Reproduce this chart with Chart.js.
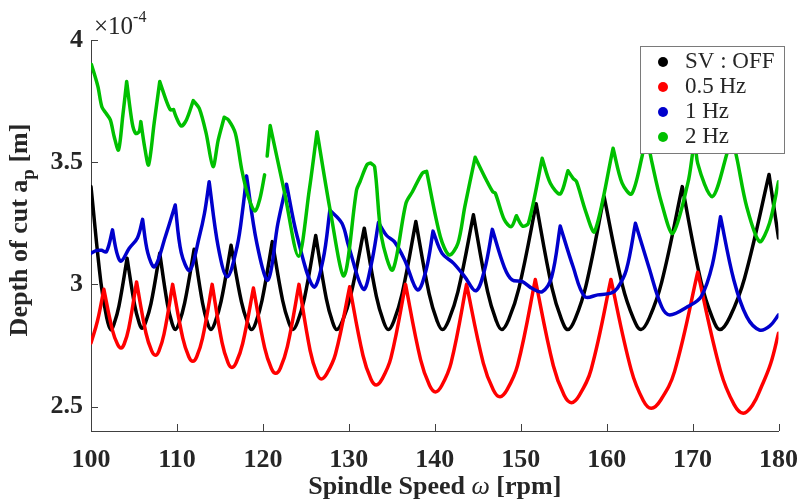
<!DOCTYPE html>
<html><head><meta charset="utf-8">
<script src="https://cdn.jsdelivr.net/npm/chart.js@4/dist/chart.umd.min.js"></script>
<style>html,body{margin:0;padding:0;background:#fff;}#wrap{width:812px;height:504px;position:relative;}</style>
</head><body><div id="wrap"><canvas id="c" width="812" height="504"></canvas></div>
<script>
// ---- data (depth values in units of 1e-4 m) ----
const xTicks = [100,110,120,130,140,150,160,170,180];
const yTicks = [2.5,3,3.5,4];
const seriesLabels = ['SV : OFF','0.5 Hz','1 Hz','2 Hz'];
const seriesColors = ['#000000','#ff0000','#0000cc','#00c000'];

const blackRpm = [100,101.15,101.84,102.3,102.68,103.25,104.2,105.08,105.6,105.95,106.36,106.98,108.0,108.9,109.44,109.8,110.24,110.9,112.0,112.98,113.56,113.95,114.42,115.13,116.3,117.5,118.22,118.7,119.18,119.9,121.1,122.3,123.02,123.5,124.03,124.83,126.15,127.38,128.11,128.6,129.24,130.2,131.8,133.2,134.04,134.6,135.24,136.2,137.8,139.35,140.28,140.9,141.62,142.7,144.5,146.15,147.14,147.8,148.6,149.8,151.8,153.65,154.76,155.5,156.34,157.6,159.7,161.85,163.14,164.0,164.96,166.4,168.8,171.0,172.32,173.2,174.34,176.05,178.9,180];
const blackDepth = [3.40,3.008,2.862,2.815,2.838,2.911,3.107,2.915,2.843,2.82,2.845,2.921,3.127,2.918,2.84,2.815,2.841,2.924,3.144,2.924,2.841,2.815,2.843,2.929,3.16,2.929,2.843,2.815,2.844,2.934,3.175,2.934,2.844,2.815,2.846,2.942,3.20,2.942,2.846,2.815,2.848,2.952,3.23,2.952,2.848,2.815,2.85,2.961,3.257,2.961,2.85,2.815,2.853,2.97,3.285,2.97,2.853,2.815,2.856,2.985,3.33,2.985,2.856,2.815,2.859,2.995,3.36,2.995,2.859,2.815,2.862,3.008,3.40,3.008,2.862,2.815,2.866,3.025,3.45,3.19];

const redRpm = [100,100.75,101.5,102.5,103.1,103.5,103.86,104.4,105.3,106.4,107.06,107.5,107.9,108.5,109.5,110.68,111.38,111.85,112.3,112.98,114.1,115.25,115.94,116.4,116.9,117.65,118.9,120.2,120.98,121.5,122.04,122.85,124.2,125.5,126.28,126.8,127.46,128.45,130.1,131.65,132.58,133.2,133.88,134.9,136.6,138.35,139.4,140.1,140.82,141.9,143.7,145.65,146.82,147.6,148.42,149.65,151.7,153.8,155.06,155.9,156.82,158.2,160.5,162.85,164.26,165.2,166.28,167.9,170.6,173.25,174.84,175.9,177.0,178.0,179.1,180];
const redDepth = [2.76,2.85,2.98,2.812,2.754,2.74,2.756,2.821,3.01,2.80,2.728,2.71,2.727,2.797,3.0,2.78,2.704,2.685,2.704,2.78,3.0,2.762,2.68,2.66,2.68,2.758,2.985,2.741,2.657,2.636,2.658,2.745,3.0,2.729,2.636,2.613,2.636,2.715,2.99,2.709,2.612,2.588,2.613,2.699,3.0,2.692,2.586,2.56,2.586,2.679,3.0,2.678,2.568,2.54,2.569,2.67,3.02,2.667,2.546,2.516,2.546,2.652,3.02,2.651,2.525,2.493,2.526,2.643,3.05,2.646,2.508,2.473,2.507,2.58,2.677,2.80];

const blueRpm = [100,100.6,101.2,101.8,102.5,103.0,103.5,104.45,105.4,106.0,106.6,107.4,108.65,109.8,110.5,111.5,112.6,113.2,113.75,114.8,115.85,117.0,117.7,118.1,119.3,120.6,121.75,122.75,124.0,125.9,127.0,127.8,129.2,130.0,131.7,132.6,133.45,134.4,135.3,136.5,138.0,139.0,139.8,140.85,142.2,143.5,144.8,145.8,146.7,148.1,149.0,150.2,151.3,152.5,153.6,154.6,156.1,157.45,158.97,160.5,161.25,162.3,163.35,164.9,166.4,167.35,169.45,171.0,172.3,173.25,174.8,176.3,177.8,179.0,180];
const blueDepth = [3.127,3.138,3.14,3.134,3.223,3.13,3.095,3.148,3.19,3.266,3.13,3.072,3.195,3.325,3.13,3.057,3.195,3.29,3.42,3.154,3.031,3.155,3.32,3.444,3.168,3.018,3.25,3.41,3.195,2.99,3.1,3.304,3.25,3.154,2.98,3.08,3.253,3.2,3.175,3.10,2.977,3.06,3.218,3.127,3.086,3.031,2.974,3.06,3.225,3.07,3.018,3.011,2.984,2.97,3.03,3.239,3.072,2.95,2.957,2.964,2.984,3.06,3.25,3.072,2.909,2.875,2.909,2.95,3.08,3.277,3.018,2.868,2.813,2.83,2.875];

const greenRpm = [100.05,100.8,101.26,101.75,102.25,102.7,103.2,103.7,104.15,104.8,105.2,105.6,105.8,106.25,106.7,107.35,108.0,108.8,109.25,109.6,109.9,110.5,111.1,111.9,112.6,113.4,114.2,114.8,115.5,116.0,116.8,117.55,118.3,119.1,119.65,120.2,120.35,120.5,120.85,122.5,124.15,125.4,126.3,127.9,129.45,130.9,131.3,132.1,132.5,133.0,133.8,135.1,136.65,137.4,138.55,139.05,140.65,141.7,142.7,143.5,144.7,146.0,146.75,147.05,148.1,148.9,149.5,150.2,150.9,152.5,153.45,154.6,155.5,156.1,156.5,157.55,158.6,160.75,161.8,162.9,164.1,164.6,165.3,166.4,167.7,169.45,170.0,170.3,170.6,172.3,174.0,174.5,175.2,176.3,177.8,178.95,180];
const greenDepth = [3.90,3.81,3.727,3.70,3.673,3.604,3.55,3.69,3.83,3.659,3.618,3.625,3.666,3.56,3.489,3.66,3.83,3.748,3.714,3.716,3.686,3.648,3.673,3.752,3.72,3.618,3.482,3.59,3.684,3.673,3.618,3.468,3.359,3.30,3.35,3.448,null,3.525,3.65,3.38,3.115,3.386,3.625,3.29,3.035,3.386,3.42,3.489,3.497,3.482,3.195,3.059,3.332,3.379,3.455,3.463,3.195,3.12,3.168,3.318,3.52,3.427,3.379,3.373,3.264,3.236,3.281,3.239,3.25,3.516,3.414,3.37,3.465,3.434,3.42,3.30,3.216,3.557,3.414,3.37,3.52,3.62,3.495,3.332,3.209,3.414,3.536,3.62,3.495,3.359,3.536,3.62,3.509,3.318,3.175,3.25,3.42];

function pairs(xs, ys){ const n=Math.min(xs.length, ys.length); const out=[]; for(let i=0;i<n;i++) out.push({x:xs[i], y:ys[i]}); return out; }
const seriesData = [pairs(blackRpm,blackDepth), pairs(redRpm,redDepth), pairs(blueRpm,blueDepth), pairs(greenRpm,greenDepth)];
const seriesTension = [0.4, 0.4, 0.35, 0.3];

const SERIF = '"Liberation Serif", "Times New Roman", serif';
const AXIS_COLOR = '#404040';

// Render local maxima as sharp cusps (lobe intersections), keep troughs smooth.
const cusps = {
  id: 'cusps',
  beforeDatasetDraw(chart, args){
    const meta = args.meta;
    const line = meta.dataset;
    if (!line) return;
    line.updateControlPoints(chart.chartArea, meta.iScale.axis);
    const pts = meta.data;
    for (let i = 1; i < pts.length - 1; i++){
      const p = pts[i], a = pts[i-1], b = pts[i+1];
      if (p.skip || a.skip || b.skip) continue;
      if (p.y < a.y && p.y < b.y){
        const k = 0.3;
        p.cp1x = p.x + k*(a.x - p.x); p.cp1y = p.y + k*(a.y - p.y);
        p.cp2x = p.x + k*(b.x - p.x); p.cp2y = p.y + k*(b.y - p.y);
      }
    }
  }
};

const decor = {
  id: 'decor',
  beforeDatasetsDraw(chart){
    const {ctx, chartArea:a, scales:{x,y}} = chart;
    ctx.save();
    ctx.strokeStyle = AXIS_COLOR; ctx.lineWidth = 1;
    xTicks.forEach(v=>{ const px=Math.round(x.getPixelForValue(v))+0.5; ctx.beginPath(); ctx.moveTo(px,a.bottom); ctx.lineTo(px,a.bottom-7); ctx.stroke(); });
    yTicks.forEach(v=>{ const py=Math.round(y.getPixelForValue(v))+0.5; ctx.beginPath(); ctx.moveTo(a.left,py); ctx.lineTo(a.left+7,py); ctx.stroke(); });
    ctx.restore();
  },
  afterDraw(chart){
    const {ctx, chartArea:a} = chart;
    ctx.save();
    // exponent label
    ctx.fillStyle = '#262626';
    ctx.textBaseline = 'alphabetic'; ctx.textAlign = 'left';
    ctx.font = '25px ' + SERIF;
    ctx.fillText('\u00d710', a.left + 3, 34);
    const w = ctx.measureText('\u00d710').width;
    ctx.font = '16px ' + SERIF;
    ctx.fillText('-4', a.left + 3 + w, 22);

    // x title
    const xt = [['Spindle Speed ', 'bold 26px '], ['\u03c9', 'italic 26px '], [' [rpm]', 'bold 26px ']];
    let tw = 0; xt.forEach(([t,f])=>{ ctx.font = f + SERIF; tw += ctx.measureText(t).width; });
    let cx = (a.left + a.right)/2 - tw/2;
    xt.forEach(([t,f])=>{ ctx.font = f + SERIF; ctx.fillText(t, cx, 494); cx += ctx.measureText(t).width; });

    // y title (rotated)
    ctx.save();
    ctx.translate(27, 230);
    ctx.rotate(-Math.PI/2);
    const yt = [['Depth of cut a', 'bold 26px ', 0], ['p', 'bold 19px ', 7], [' [m]', 'bold 26px ', 0]];
    tw = 0; yt.forEach(([t,f])=>{ ctx.font = f + SERIF; tw += ctx.measureText(t).width; });
    cx = -tw/2;
    yt.forEach(([t,f,dy])=>{ ctx.font = f + SERIF; ctx.fillText(t, cx, dy); cx += ctx.measureText(t).width; });
    ctx.restore();

    // legend
    const lx = 640, ly = 46, lw = 144, lh = 107;
    ctx.fillStyle = '#ffffff';
    ctx.fillRect(lx, ly, lw, lh);
    ctx.strokeStyle = '#7a7a7a'; ctx.lineWidth = 1;
    ctx.strokeRect(lx+0.5, ly+0.5, lw, lh);
    ctx.font = '23px ' + SERIF;
    seriesLabels.forEach((lab,i)=>{
      const ry = 62 + i*25;
      ctx.fillStyle = seriesColors[i];
      ctx.beginPath(); ctx.arc(663, ry, 5, 0, Math.PI*2); ctx.fill();
      ctx.fillStyle = '#262626';
      ctx.fillText(lab, 685, ry + 6);
    });
    ctx.restore();
  }
};

new Chart(document.getElementById('c'), {
  type: 'line',
  data: {
    datasets: seriesData.map((d,i)=>({
      label: seriesLabels[i],
      data: d,
      borderColor: seriesColors[i],
      backgroundColor: seriesColors[i],
      borderWidth: 3.5,
      borderJoinStyle: 'round',
      borderCapStyle: 'round',
      pointRadius: 0,
      tension: seriesTension[i],
      spanGaps: false,
      fill: false,
      order: 4 - i
    }))
  },
  options: {
    responsive: false,
    animation: false,
    devicePixelRatio: 1,
    layout: { padding: { left: 0, right: 21, top: 40, bottom: 0 } },
    plugins: { legend: { display: false }, tooltip: { enabled: false } },
    scales: {
      x: {
        type: 'linear', min: 100, max: 180,
        afterBuildTicks: s => { s.ticks = xTicks.map(v=>({value:v})); },
        afterFit: s => { s.height = 73; },
        grid: { display: false, drawTicks: false },
        border: { display: true, color: AXIS_COLOR, width: 1 },
        ticks: { autoSkip: false, maxRotation: 0, padding: 14, color: '#262626', font: { family: SERIF, weight: 'bold', size: 26 }, callback: v => String(v) }
      },
      y: {
        type: 'linear', min: 2.4, max: 4.0,
        afterBuildTicks: s => { s.ticks = yTicks.map(v=>({value:v})); },
        afterFit: s => { s.width = 91; },
        grid: { display: false, drawTicks: false },
        border: { display: true, color: AXIS_COLOR, width: 1 },
        ticks: { padding: 8, color: '#262626', font: { family: SERIF, weight: 'bold', size: 26 }, callback: v => String(v) }
      }
    }
  },
  plugins: [cusps, decor]
});
</script></body></html>
